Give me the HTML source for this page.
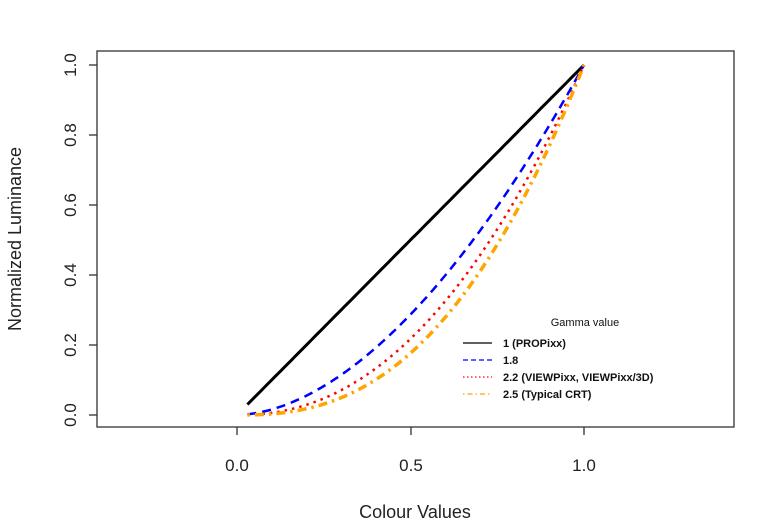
<!DOCTYPE html>
<html><head><meta charset="utf-8"><style>body{margin:0;background:#fff}svg{display:block}</style></head><body>
<svg width="760" height="529" xmlns="http://www.w3.org/2000/svg" font-family="Liberation Sans, sans-serif">
<rect width="760" height="529" fill="#fff"/>
<rect x="97" y="51" width="637" height="376" fill="none" stroke="#333" stroke-width="1.3"/>
<g stroke="#333" stroke-width="1.3">
<line x1="237" y1="427" x2="237" y2="435"/><line x1="411" y1="427" x2="411" y2="435"/><line x1="584" y1="427" x2="584" y2="435"/>
<line x1="97" y1="415" x2="89" y2="415"/><line x1="97" y1="345" x2="89" y2="345"/><line x1="97" y1="275" x2="89" y2="275"/><line x1="97" y1="205" x2="89" y2="205"/><line x1="97" y1="135" x2="89" y2="135"/><line x1="97" y1="65" x2="89" y2="65"/>
</g>
<g font-size="17" fill="#222" text-anchor="middle">
<text x="237" y="471">0.0</text><text x="411" y="471">0.5</text><text x="584" y="471">1.0</text>
<g><text transform="translate(76,415) rotate(-90)">0.0</text><text transform="translate(76,345) rotate(-90)">0.2</text><text transform="translate(76,275) rotate(-90)">0.4</text><text transform="translate(76,205) rotate(-90)">0.6</text><text transform="translate(76,135) rotate(-90)">0.8</text><text transform="translate(76,65) rotate(-90)">1.0</text></g>
<text x="415" y="518" font-size="18">Colour Values</text>
<text transform="translate(21,239) rotate(-90)" font-size="18">Normalized Luminance</text>
</g>
<g fill="none" id="curves"></g>
<g font-size="11" fill="#111">
<text x="585" y="326" text-anchor="middle">Gamma value</text>
<g font-weight="bold"><text x="503" y="347">1 (PROPixx)</text><text x="503" y="364">1.8</text><text x="503" y="381">2.2 (VIEWPixx, VIEWPixx/3D)</text><text x="503" y="398">2.5 (Typical CRT)</text></g>
</g>
<g stroke-width="1.3">
<line x1="463" y1="343" x2="492" y2="343" stroke="#000"/>
<line x1="463" y1="360" x2="492" y2="360" stroke="#00f" stroke-dasharray="5,3"/>
<line x1="463" y1="377" x2="492" y2="377" stroke="#f00" stroke-dasharray="1.5,2.5"/>
<line x1="463" y1="394" x2="492" y2="394" stroke="#ffa500" stroke-dasharray="1.5,3,5,3"/>
</g>
<script>
var g=document.getElementById('curves');
var specs=[[1,'#000','',3],[1.8,'#00f','9,6',2.5],[2.2,'#f00','2.5,5',2.5],[2.5,'#ffa500','2.5,5,9,5',3.5]];
specs.forEach(function(s){var d='';for(var i=0;i<=100;i++){var x=0.03+0.97*i/100;var y=Math.pow(x,s[0]);d+=(i?'L':'M')+(237+347*x).toFixed(1)+','+(415-350*y).toFixed(1);}
var p=document.createElementNS('http://www.w3.org/2000/svg','path');p.setAttribute('d',d);p.setAttribute('stroke',s[1]);p.setAttribute('stroke-width',s[3]);if(s[2])p.setAttribute('stroke-dasharray',s[2]);g.appendChild(p);});
</script>
</svg>
</body></html>
